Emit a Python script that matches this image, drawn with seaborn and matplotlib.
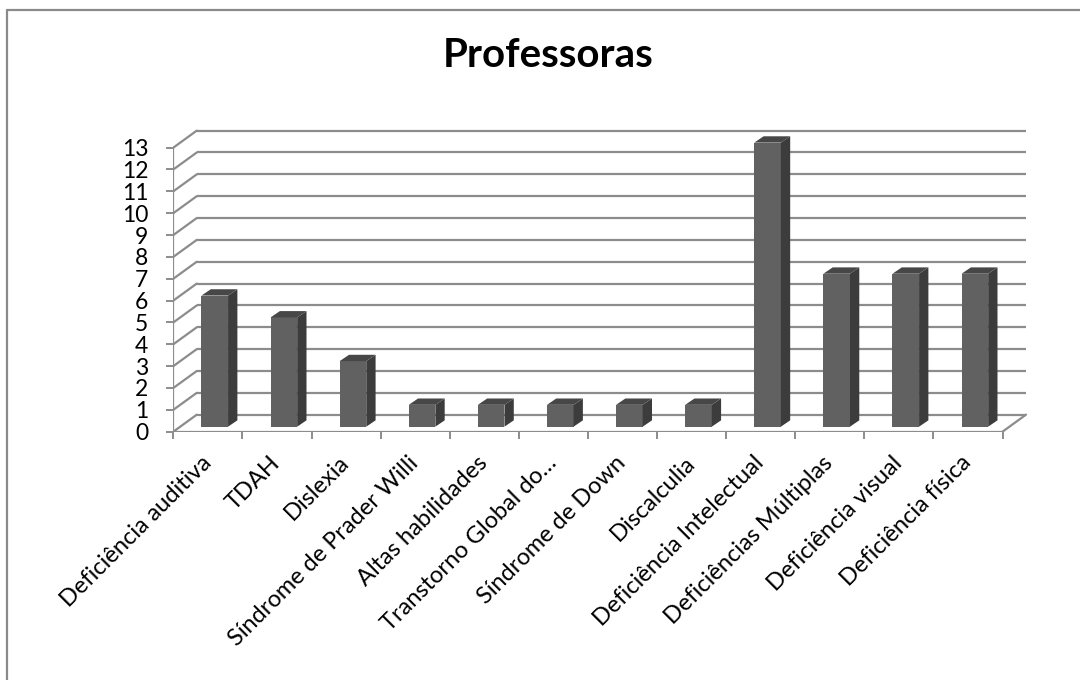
import numpy as np
import seaborn as sns
import matplotlib.pyplot as plt
from matplotlib.transforms import Affine2D
from matplotlib.lines import Line2D

categories = ['Deficiência auditiva', 'TDAH', 'Dislexia', 'Síndrome de Prader Willi',
              'Altas habilidades', 'Transtorno Global do…', 'Síndrome de Down',
              'Discalculia', 'Deficiência Intelectual', 'Deficiências Múltiplas',
              'Deficiência visual', 'Deficiência física']
values = [6, 5, 3, 1, 1, 1, 1, 1, 13, 7, 7, 7]
yticks = list(range(0, 14))

sns.set_style('white')
plt.rcParams['font.family'] = ['Lato', 'DejaVu Sans']

front_c = '#616161'
side_c = '#3c3c3c'
top_c = '#474747'
grid_c = '#8c8c8c'

# fake 3d: back wall offset, bar offset and bar depth (data units)
wall_dx, wall_dy = 0.34, 0.78
bar_dx, bar_dy = 0.10, 0.23
depth_dx, depth_dy = 0.135, 0.29
n = len(categories)

fig = plt.figure(figsize=(10.8, 6.8), dpi=100)
ax = fig.add_axes([173.3 / 1080, (680 - 431.7) / 680, 863.75 / 1080, 14 * 21.85 / 680])

sns.barplot(x=categories, y=values, color=front_c, saturation=1, width=0.385,
            ax=ax, zorder=3, linewidth=0)

# back wall grid + left side wall
for v in yticks:
    ax.plot([-0.5 + wall_dx, n - 0.5 + wall_dx], [v + wall_dy, v + wall_dy],
            color=grid_c, lw=1.6, zorder=1, solid_capstyle='butt')
    ax.plot([-0.5, -0.5 + wall_dx], [v, v + wall_dy], color=grid_c, lw=1.6, zorder=1)
ax.plot([n - 0.5, n - 0.5 + wall_dx], [0, wall_dy], color=grid_c, lw=1.6, zorder=1)
ax.plot([-0.5, n - 0.5], [0, 0], color=grid_c, lw=1.6, zorder=2, solid_capstyle='butt')
ax.plot([-0.5, -0.5], [0, 13], color=grid_c, lw=1.6, zorder=2, solid_capstyle='butt')

# shift bars back and add side/top faces
shift = Affine2D().translate(bar_dx, bar_dy)
for p in ax.patches:
    p.set_transform(shift + ax.transData)
    x0 = p.get_x() + bar_dx
    x1 = x0 + p.get_width()
    y0 = bar_dy
    y1 = bar_dy + p.get_height()
    ax.fill([x1, x1 + depth_dx, x1 + depth_dx, x1],
            [y0, y0 + depth_dy, y1 + depth_dy, y1], color=side_c, lw=0, zorder=3)
    ax.fill([x0, x1, x1 + depth_dx, x0 + depth_dx],
            [y1, y1, y1 + depth_dy, y1 + depth_dy], color=top_c, lw=0, zorder=3)

ax.set_xlim(-0.5, n)
ax.set_ylim(0, 14)
for s in ax.spines.values():
    s.set_visible(False)

ax.set_yticks(yticks)
ax.set_yticklabels([str(t) for t in yticks], fontsize=16.5, color='black')
ax.tick_params(axis='y', left=True, length=5, width=1.4, color=grid_c, pad=13)
ax.set_xticks(range(n))
ax.set_xticklabels(categories, rotation=45, ha='right', va='center',
                   rotation_mode='anchor', fontsize=17, color='black')
ax.set_xticks(np.arange(-0.5, n, 1), minor=True)
ax.tick_params(axis='x', which='major', length=0, pad=20)
ax.tick_params(axis='x', which='minor', bottom=True, length=5, width=1.4, color=grid_c)
ax.set_xlabel('')
ax.set_ylabel('')

fig.text(548 / 1080, (680 - 66.7) / 680, 'Professoras', ha='center', va='baseline',
         fontsize=29, fontweight='bold', color='black')

# chart area border (only left and top visible)
fig.add_artist(Line2D([7 / 1080, 7 / 1080], [0, 670 / 680], color='#8a8a8a', lw=1.6,
                      transform=fig.transFigure))
fig.add_artist(Line2D([7 / 1080, 1], [670 / 680, 670 / 680], color='#8a8a8a', lw=1.6,
                      transform=fig.transFigure))

fig.savefig('out.png', dpi=100)
